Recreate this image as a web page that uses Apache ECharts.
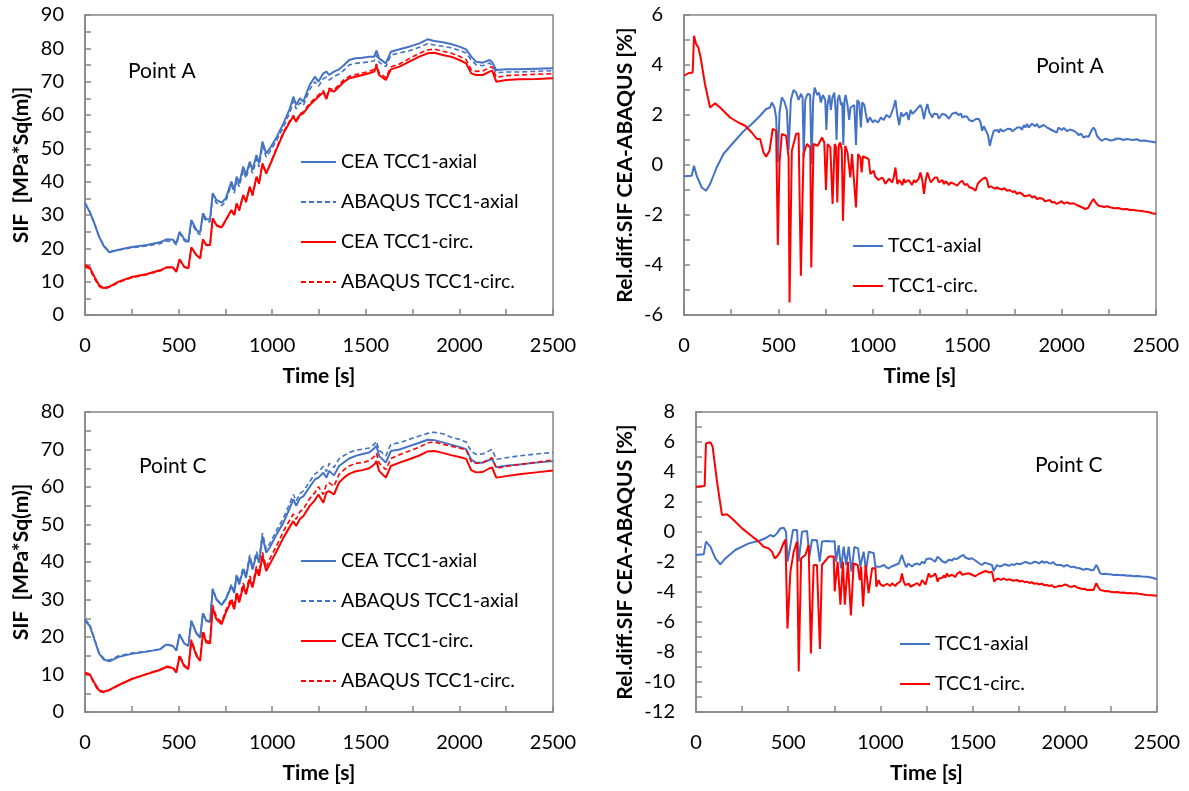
<!DOCTYPE html>
<html><head><meta charset="utf-8">
<script src="https://cdn.jsdelivr.net/npm/echarts@6/dist/echarts.min.js"></script>
<style>html,body{margin:0;padding:0;background:#fff}#c{width:1189px;height:791px}</style>
</head><body><div id="c"></div>
<script>
// ---- shared time grid (s) for SIF panels ----
const tSIF = [0,25,50,75,100,130,180,250,330,400,
435,470,488,505,530,552,568,595,615,630,
648,668,682,702,730,752,782,797,810,824,
845,860,880,895,916,930,948,968,988,1025,
1060,1095,1113,1128,1148,1166,1200,1228,1247,1273,
1290,1304,1330,1357,1384,1411,1446,1482,1518,1545,
1557,1571,1607,1634,1680,1732,1786,1830,1866,1911,
1955,2000,2036,2063,2089,2125,2161,2175,2197,2250,
2320,2410,2500];

// ---- Point A, SIF [MPa*Sq(m)] ----
const A_CEA_axial = [33.5,31,27.5,23.5,20.7,18.8,19.6,20.4,21,21.8,
22.7,22.6,21.5,25,22.8,22,28.5,25.5,24.7,30.5,
28.7,28.7,36.5,34.5,33.7,35,40,37.5,41.5,39.5,
44.5,42,46,43.5,48,45.5,52,48.5,50,53.5,
57.5,62,65.5,63,65,64,69,71.5,70,72.5,
73,72,73,73.7,75,76.5,77,77.2,77.5,77.5,
79.3,77,75.5,79,79.7,80.5,81.5,82.7,82.2,81.8,
81.3,80.5,79.7,77.5,76,75.7,76.5,75.8,73.5,73.7,
73.7,73.9,74];
const A_ABAQUS_axial = [33.6,31,27.5,23.6,20.9,19,19.5,20.2,20.7,21.4,
22.2,22.1,21,24.6,22.3,21.5,27.8,24.9,24,29.8,
28,28,35.6,33.6,32.8,34.1,39,36.6,40.4,38.5,
43.4,41,44.9,42.5,46.8,44.4,50.8,47.4,49,52.5,
56.4,60.8,64.2,61.8,63.7,62.8,67.6,70,68.6,70.9,
71.4,70.5,71.5,72.3,73.5,75,75.5,75.7,76,76.2,
78,75.8,74.5,78,78.6,79.3,80.3,81.4,81,80.6,
80.2,79.4,78.6,76.5,75.1,74.8,75.6,74.8,72.7,72.9,
72.9,73.1,73.3];
const A_CEA_circ = [15,14.3,11.5,9,8.1,8.5,10,11.4,12.3,13.4,
14.3,14.3,13,16.7,14.5,14,20.3,18,17,22.7,
21,21,29,27,26.3,28.5,31.5,30,33.5,31.5,
36,34,38.5,36,41.5,39.5,45.5,42.5,45,50,
54.5,58,59.5,58,60,60.5,63,64.5,65.5,66.8,
64.8,67.5,67,68.5,70,71,71.5,72,72.5,73,
74.7,72,70.5,73.7,74.5,76,77.5,78.5,78.7,78,
77.5,76.5,75.5,72.5,72,72,73,73.3,70,70.5,
70.7,70.8,71];
const A_ABAQUS_circ = [14.5,13.8,11,8.6,7.8,8.3,9.8,11.2,12.1,13.2,
14.2,14.2,12.9,16.5,14.4,13.9,20.1,17.9,16.9,22.5,
20.9,20.9,28.8,26.8,26.1,28.3,31.3,29.8,33.3,31.3,
35.8,33.8,38.3,35.8,41.3,39.3,45.3,42.4,45.2,50.3,
54.9,58.4,59.9,58.4,60.4,60.9,63.5,65,66,67.3,
65.4,68,67.5,69.1,70.6,71.6,72.1,72.6,73.1,73.7,
75.3,72.7,71.2,74.4,75.3,76.9,78.5,79.5,79.8,79.1,
78.6,77.6,76.6,73.6,73.1,73.2,74.2,74.5,71.3,71.8,
72,72.2,72.4];

// ---- Point C, SIF [MPa*Sq(m)] ----
const C_CEA_axial = [24.3,23,19.4,15.6,14,13.5,14.7,15.5,16.1,16.7,
18,17.6,16.4,20.7,18.3,17.6,24.3,21,19.8,26.3,
24.3,24,32.7,30,28.5,30,33.6,31.8,36.3,34,
38,35.8,41.2,38,42,39.8,46.8,42.5,44,47.5,
50.5,54.5,56.7,55,57,57.5,60,62,62.5,63.8,
62.5,64.3,63.1,65.6,66.6,67.6,68.3,68.8,69.2,70.3,
71,68.3,66.5,69.6,70,70.9,71.8,72.6,72.5,71.9,
71.3,70.7,70.1,67.3,66.5,66.5,67.2,67.4,65.3,65.7,
66,66.5,66.9];
const C_ABAQUS_axial = [24.7,23.4,19.6,15.8,14.3,13.8,15,15.7,16.2,16.8,
18.1,17.6,16.4,20.8,18.3,17.6,24.3,21.1,19.9,26.4,
24.5,24.2,32.9,30.2,28.7,30.3,34,32.2,36.8,34.5,
38.6,36.4,41.9,38.7,42.8,40.6,47.7,43.5,45,48.6,
51.7,55.8,58,56.3,58.3,58.9,61.4,63.5,64.1,65.5,
64.1,66.3,65.2,67.5,68.4,69.2,69.8,70.1,70.4,71.4,
72.2,69.8,68.3,71.4,71.8,72.7,73.6,74.3,74.6,74.2,
73.3,72.7,72,69.5,68.7,68.8,69.7,70,67.4,67.8,
68.3,68.8,69.2];
const C_CEA_circ = [10.5,10.1,7.8,5.8,5.4,5.9,7.2,8.8,10.1,11.2,
12,11.7,10.5,14.9,12.2,11.4,18.9,15,13.6,21.2,
18.5,18.3,27.8,24.7,23.4,26.5,29.6,27.4,31.4,29.2,
33.6,31.4,35.4,33.2,38,36.3,41.6,37.6,39.5,43,
46.5,49.5,50.9,49.6,51.5,52.2,54.9,56.5,58,55.8,
58.6,58.9,58,61.2,62.5,63.5,64.2,64.5,65,66,
66.9,64.3,62.5,65.6,66.5,67.4,68.4,69.5,69.6,69.1,
68.5,68,67.5,64.5,63.9,64,65,65.2,62.5,62.9,
63.4,63.9,64.4];
const C_ABAQUS_circ = [10.2,9.8,7.4,5.5,5.2,5.8,7.1,8.8,10.2,11.3,
12.2,11.9,10.7,15.2,12.5,11.6,19.3,15.4,14,21.7,
19,18.8,28.5,25.3,24,27.1,30.3,28.1,32.1,29.9,
34.4,32.2,36.3,34,38.9,37.2,42.6,38.6,40.9,44.5,
48.2,51.3,52.8,51.4,53.4,54.1,56.9,58.5,60.1,58,
60.8,61.1,60.2,63.4,64.6,65.6,66.3,66.5,67,68.1,
69,66.4,64.6,67.6,68.6,69.6,70.6,71.8,72,71.4,
70.9,70.4,69.9,66.8,66.3,66.5,67.5,67.8,65,65.5,
66,66.6,67.2];

// ---- Relative difference [%], [time, value] ----
const relA_axial = [[0,-0.45],[41,-0.43],[53,-0.03],[67,-0.43],[94,-0.9],[117,-1.03],[138,-0.76],[173,-0.1],[209,0.44],[262,0.9],[315,1.35],[359,1.64],[403,1.97],[435,2.24],[456,2.3],[465,2.5],[479,2.3],[488,1.9],[497,0.1],[506,2.1],[518,2.7],[531,2.55],[545,2.2],[554,0.6],[566,2.6],[580,3.0],[594,2.9],[607,2.6],[619,2.85],[628,2.7],[634,0.3],[642,2.6],[655,2.85],[668,2.8],[676,0.05],[684,2.6],[692,3.1],[705,2.8],[715,2.9],[725,2.5],[735,2.8],[748,2.6],[754,1.4],[760,2.4],[770,2.8],[778,2.2],[786,2.7],[796,2.9],[803,2.2],[808,1.0],[814,2.6],[822,2.8],[832,2.4],[838,2.5],[844,0.8],[850,2.6],[856,2.8],[866,2.4],[875,1.8],[882,2.3],[892,2.3],[902,2.4],[911,0.8],[918,2.6],[928,2.5],[937,1.5],[944,2.5],[955,2.4],[962,2.1],[972,1.7],[985,1.9],[1000,1.7],[1010,1.8],[1020,1.85],[1028,1.7],[1035,1.75],[1043,1.9],[1050,1.9],[1058,1.8],[1065,1.85],[1072,2.0],[1080,2.0],[1090,1.9],[1100,2.1],[1110,2.3],[1120,2.6],[1130,2.0],[1140,1.6],[1150,2.1],[1160,1.95],[1170,2.0],[1180,2.1],[1190,1.8],[1200,2.2],[1210,2.05],[1220,2.0],[1230,2.2],[1240,2.3],[1253,2.4],[1262,2.2],[1271,1.84],[1280,2.2],[1289,2.44],[1300,2.1],[1308,2.0],[1315,1.9],[1323,2.05],[1330,2.1],[1341,2.04],[1350,1.85],[1360,1.9],[1368,2.05],[1377,1.97],[1386,2.0],[1395,2.05],[1403,1.85],[1412,1.9],[1420,2.05],[1430,2.0],[1440,2.1],[1447,2.17],[1453,2.0],[1460,1.95],[1467,2.05],[1474,1.9],[1487,1.95],[1500,1.93],[1510,1.8],[1520,1.85],[1528,1.75],[1535,1.77],[1548,1.85],[1562,1.84],[1571,1.7],[1579,1.37],[1588,1.55],[1597,1.5],[1610,1.2],[1620,0.77],[1630,1.1],[1641,1.37],[1650,1.35],[1660,1.4],[1668,1.3],[1676,1.44],[1688,1.35],[1700,1.38],[1714,1.45],[1729,1.44],[1740,1.35],[1750,1.4],[1765,1.5],[1782,1.5],[1790,1.4],[1800,1.6],[1808,1.5],[1817,1.64],[1826,1.5],[1835,1.55],[1843,1.65],[1850,1.7],[1860,1.55],[1870,1.64],[1880,1.5],[1890,1.55],[1905,1.6],[1923,1.5],[1935,1.45],[1945,1.4],[1960,1.35],[1975,1.3],[1983,1.5],[1990,1.45],[2000,1.4],[2011,1.48],[2020,1.4],[2030,1.35],[2045,1.42],[2064,1.37],[2078,1.3],[2090,1.2],[2103,1.25],[2116,1.1],[2130,1.15],[2143,1.13],[2160,1.4],[2169,1.5],[2178,1.4],[2187,1.17],[2200,1.05],[2213,0.97],[2230,1.05],[2245,1.02],[2260,0.98],[2275,1.0],[2292,1.06],[2310,1.05],[2328,1.0],[2345,1.04],[2362,1.02],[2380,1.0],[2398,1.03],[2416,0.97],[2440,0.98],[2460,0.95],[2480,0.93],[2500,0.9]];
const relA_circ = [[0,3.57],[23,3.67],[46,3.7],[53,5.17],[64,4.84],[76,4.7],[88,4.3],[111,3.24],[138,2.3],[165,2.47],[191,2.3],[244,1.9],[288,1.7],[324,1.57],[359,1.3],[386,1.04],[403,1.04],[421,0.5],[435,0.33],[453,0.57],[470,1.45],[479,1.5],[488,1.37],[497,-3.2],[506,0.1],[518,1.24],[541,1.17],[554,0.3],[559,-5.5],[571,0.57],[594,1.24],[607,1.27],[619,-4.43],[633,0.44],[651,0.84],[669,0.7],[674,-4.1],[686,0.84],[708,0.77],[731,1.1],[743,0.9],[752,-1.0],[761,0.84],[775,0.7],[787,-1.56],[798,0.84],[806,0.7],[812,-1.5],[820,0.8],[828,0.9],[836,0.6],[842,-2.23],[854,0.77],[866,0.5],[872,0.44],[881,-0.5],[890,0.44],[900,0.4],[911,-1.7],[922,0.44],[934,0.3],[941,-0.3],[948,0.35],[961,0.3],[978,0.24],[987,-0.36],[1005,-0.23],[1012,-0.45],[1020,-0.5],[1030,-0.6],[1040,-0.63],[1050,-0.5],[1058,-0.6],[1067,-0.75],[1076,-0.7],[1085,-0.55],[1095,-0.6],[1103,-0.7],[1111,-0.5],[1120,-0.1],[1130,-0.76],[1140,-0.6],[1150,-0.65],[1157,-0.8],[1164,-0.56],[1172,-0.7],[1180,-0.75],[1190,-0.6],[1199,-0.7],[1208,-0.8],[1218,-0.6],[1226,-0.7],[1235,-0.76],[1243,-0.55],[1252,-0.3],[1262,-0.6],[1271,-1.16],[1280,-0.6],[1289,-0.3],[1300,-0.55],[1308,-0.7],[1315,-0.63],[1328,-0.5],[1341,-0.5],[1350,-0.7],[1360,-0.7],[1368,-0.6],[1377,-0.76],[1386,-0.65],[1395,-0.6],[1404,-0.8],[1412,-0.7],[1420,-0.78],[1430,-0.75],[1440,-0.7],[1447,-0.83],[1460,-0.7],[1474,-0.63],[1487,-0.8],[1500,-0.76],[1510,-0.88],[1520,-0.85],[1532,-0.95],[1544,-1.03],[1556,-0.75],[1570,-0.63],[1583,-0.55],[1597,-0.5],[1605,-0.6],[1614,-0.9],[1625,-0.85],[1635,-0.85],[1646,-0.95],[1658,-0.9],[1670,-0.95],[1685,-0.98],[1698,-0.93],[1711,-1.03],[1725,-1.0],[1740,-1.08],[1752,-1.05],[1764,-1.16],[1776,-1.1],[1790,-1.15],[1803,-1.25],[1817,-1.23],[1830,-1.2],[1845,-1.3],[1857,-1.25],[1870,-1.36],[1885,-1.32],[1900,-1.35],[1912,-1.45],[1923,-1.43],[1937,-1.4],[1950,-1.5],[1962,-1.48],[1975,-1.56],[1988,-1.5],[2000,-1.45],[2014,-1.55],[2028,-1.49],[2045,-1.55],[2064,-1.53],[2080,-1.6],[2095,-1.65],[2110,-1.7],[2125,-1.76],[2140,-1.72],[2150,-1.7],[2160,-1.45],[2169,-1.36],[2180,-1.5],[2196,-1.63],[2210,-1.65],[2225,-1.68],[2240,-1.65],[2257,-1.69],[2278,-1.73],[2300,-1.72],[2322,-1.77],[2345,-1.76],[2362,-1.8],[2380,-1.8],[2398,-1.82],[2416,-1.83],[2438,-1.86],[2460,-1.88],[2480,-1.93],[2500,-1.96]];

const relC_axial = [[0,-1.53],[42,-1.49],[54,-0.64],[78,-0.98],[105,-1.76],[132,-2.16],[159,-1.76],[213,-1.2],[286,-0.76],[340,-0.6],[376,-0.42],[403,-0.2],[421,-0.31],[439,-0.09],[457,0.24],[476,0.29],[488,0.02],[497,-1.98],[512,-0.87],[526,0.13],[548,0.13],[557,-1.98],[575,0.02],[602,0.07],[615,-1.64],[629,-0.53],[656,-0.55],[671,-1.98],[683,-0.64],[711,-0.6],[738,-0.64],[752,-0.6],[759,-1.98],[774,-0.87],[786,-2.42],[801,-0.98],[814,-2.2],[828,-0.98],[843,-2.64],[859,-1.0],[879,-1.09],[891,-2.3],[909,-1.31],[922,-2.53],[937,-1.31],[964,-1.42],[973,-2.31],[1000,-2.31],[1010,-2.4],[1020,-2.2],[1032,-2.35],[1045,-2.42],[1060,-2.3],[1070,-2.4],[1081,-2.2],[1090,-2.3],[1100,-2.1],[1108,-2.0],[1117,-1.53],[1126,-1.9],[1135,-2.2],[1142,-2.35],[1150,-2.1],[1160,-2.2],[1172,-2.3],[1185,-2.15],[1200,-2.1],[1213,-2.2],[1226,-1.98],[1238,-2.1],[1250,-1.8],[1260,-1.9],[1270,-1.76],[1283,-1.85],[1297,-1.98],[1310,-1.65],[1325,-1.8],[1335,-1.95],[1345,-1.9],[1353,-2.05],[1361,-1.98],[1370,-1.85],[1380,-1.85],[1390,-1.9],[1397,-1.76],[1406,-1.85],[1415,-1.8],[1425,-1.7],[1433,-1.64],[1443,-1.7],[1451,-1.53],[1460,-1.7],[1470,-1.75],[1480,-1.8],[1487,-1.87],[1496,-1.75],[1505,-1.8],[1515,-1.9],[1524,-1.98],[1537,-2.1],[1551,-2.2],[1565,-2.05],[1578,-2.09],[1592,-2.15],[1605,-2.2],[1614,-2.6],[1623,-2.4],[1632,-2.2],[1646,-2.3],[1660,-2.25],[1672,-2.15],[1686,-2.2],[1700,-2.25],[1712,-2.15],[1726,-2.2],[1740,-2.09],[1755,-2.15],[1768,-2.1],[1782,-2.0],[1795,-2.02],[1808,-2.1],[1822,-2.08],[1836,-1.98],[1849,-2.02],[1862,-2.1],[1875,-1.95],[1890,-2.05],[1903,-1.98],[1914,-2.08],[1925,-2.1],[1937,-2.0],[1948,-2.16],[1960,-2.2],[1970,-2.25],[1982,-2.2],[1994,-2.31],[2008,-2.2],[2020,-2.25],[2034,-2.35],[2048,-2.31],[2062,-2.38],[2075,-2.4],[2088,-2.45],[2102,-2.53],[2116,-2.45],[2130,-2.48],[2143,-2.55],[2156,-2.53],[2164,-2.35],[2171,-2.2],[2180,-2.4],[2192,-2.76],[2205,-2.8],[2220,-2.78],[2233,-2.82],[2247,-2.82],[2265,-2.86],[2285,-2.85],[2302,-2.89],[2319,-2.87],[2337,-2.92],[2355,-2.9],[2373,-2.95],[2391,-2.93],[2420,-2.97],[2446,-2.98],[2475,-3.05],[2500,-3.15]];
const relC_circ = [[0,3.02],[47,3.07],[54,5.91],[78,5.98],[90,5.69],[114,3.36],[141,1.13],[168,1.18],[204,0.8],[250,0.24],[295,-0.2],[340,-0.64],[367,-0.98],[394,-1.09],[412,-1.31],[427,-1.76],[439,-1.64],[457,-1.31],[470,-0.87],[485,-0.5],[496,-6.44],[512,-2.64],[530,-1.31],[548,-0.64],[557,-9.3],[570,-1.76],[593,-1.53],[611,-0.87],[623,-8.1],[638,-2.2],[656,-2.2],[672,-7.8],[683,-2.2],[720,-1.64],[747,-1.64],[752,-3.96],[768,-1.98],[783,-4.84],[797,-1.98],[807,-4.84],[824,-1.98],[840,-5.56],[855,-2.1],[877,-2.2],[888,-3.2],[895,-2.3],[906,-4.96],[920,-2.2],[936,-4.07],[955,-2.42],[973,-2.42],[978,-3.64],[991,-3.2],[1000,-3.5],[1010,-3.4],[1018,-3.6],[1027,-3.53],[1036,-3.45],[1045,-3.4],[1054,-3.6],[1063,-3.42],[1072,-3.5],[1080,-3.6],[1090,-3.45],[1099,-3.53],[1108,-3.3],[1117,-2.76],[1126,-3.3],[1135,-3.53],[1145,-3.4],[1155,-3.45],[1163,-3.65],[1172,-3.64],[1186,-3.5],[1200,-3.4],[1213,-3.6],[1226,-3.2],[1235,-3.35],[1245,-3.5],[1254,-3.1],[1262,-2.76],[1271,-3.0],[1280,-3.09],[1288,-2.9],[1297,-2.76],[1304,-3.0],[1310,-3.3],[1318,-3.1],[1325,-3.0],[1335,-3.05],[1345,-2.9],[1353,-3.05],[1361,-2.76],[1370,-2.95],[1380,-3.0],[1388,-2.85],[1397,-2.9],[1406,-3.0],[1415,-2.8],[1424,-2.9],[1433,-2.64],[1442,-2.85],[1450,-2.95],[1460,-2.8],[1469,-2.87],[1478,-2.75],[1487,-2.7],[1496,-2.85],[1505,-2.76],[1515,-2.95],[1525,-2.9],[1533,-2.8],[1542,-2.87],[1551,-2.7],[1560,-2.75],[1569,-2.6],[1578,-2.64],[1592,-2.7],[1605,-2.64],[1617,-3.31],[1628,-3.15],[1640,-3.1],[1654,-3.2],[1668,-3.09],[1684,-3.2],[1700,-3.15],[1720,-3.25],[1740,-3.2],[1755,-3.3],[1770,-3.25],[1782,-3.35],[1795,-3.31],[1808,-3.4],[1820,-3.35],[1835,-3.45],[1849,-3.42],[1862,-3.5],[1875,-3.45],[1890,-3.55],[1903,-3.53],[1917,-3.6],[1930,-3.55],[1943,-3.68],[1957,-3.64],[1970,-3.58],[1985,-3.6],[1998,-3.5],[2012,-3.53],[2026,-3.65],[2040,-3.65],[2053,-3.58],[2066,-3.7],[2080,-3.75],[2095,-3.8],[2108,-3.78],[2120,-3.87],[2138,-3.85],[2156,-3.87],[2164,-3.6],[2171,-3.42],[2180,-3.65],[2192,-3.87],[2205,-3.9],[2220,-3.95],[2233,-3.93],[2247,-3.98],[2265,-4.02],[2285,-4.0],[2302,-4.05],[2319,-4.03],[2337,-4.08],[2355,-4.06],[2373,-4.1],[2391,-4.09],[2408,-4.14],[2420,-4.15],[2433,-4.18],[2446,-4.2],[2470,-4.22],[2500,-4.25]];

const F = 'Lato, "Noto Sans", sans-serif';
const BLUE = '#4472C4', RED = '#FF0000', FRAME = '#868686';

const grids = [
  {left:85, top:15, width:468, height:300},
  {left:684, top:15, width:472, height:300},
  {left:85, top:412, width:468, height:300},
  {left:696, top:412, width:461, height:300}
].map(g => Object.assign({show:true, borderColor:FRAME, borderWidth:1.5, backgroundColor:'#fff'}, g));

function xAx(gi){
  return {type:'value', gridIndex:gi, min:0, max:2500, interval:250,
    name:'Time [s]', nameLocation:'middle', nameGap:51,
    nameTextStyle:{fontFamily:F, fontSize:21, fontWeight:'bold', color:'#000'},
    axisLine:{show:true, onZero:false, lineStyle:{color:FRAME, width:1.5}},
    axisTick:{show:true, inside:true, length:6, lineStyle:{color:FRAME, width:1.5}},
    axisLabel:{margin:21, fontFamily:F, fontSize:20, color:'#000',
      formatter:v => (v % 500 === 0 ? String(v) : '')},
    splitLine:{show:false}};
}
function yAx(gi, min, max, step, labelStep, name, gap){
  return {type:'value', gridIndex:gi, min:min, max:max, interval:step,
    name:name, nameLocation:'middle', nameGap:gap,
    nameTextStyle:{fontFamily:F, fontSize:21, fontWeight:'bold', color:'#000'},
    axisLine:{show:true, onZero:false, lineStyle:{color:FRAME, width:1.5}},
    axisTick:{show:true, inside:true, length:6, lineStyle:{color:FRAME, width:1.5}},
    axisLabel:{margin:21, fontFamily:F, fontSize:20, color:'#000',
      formatter:v => (Math.abs(v % labelStep) < 1e-9 ? String(v) : '')},
    splitLine:{show:false}};
}

function pairs(vals){ return tSIF.map((t,i)=>[t, vals[i]]); }
function line(name, gi, data, color, dashed){
  return {type:'line', name:name, xAxisIndex:gi, yAxisIndex:gi, data:data,
    symbol:'none', showSymbol:false, animation:false,
    lineStyle:{color:color, width:dashed?1.6:2, type:dashed?[5,3]:'solid'},
    itemStyle:{color:color}};
}

const legendBase = {orient:'vertical', padding:0, itemWidth:35, itemHeight:14, itemGap:20,
  itemStyle:{opacity:0},
  textStyle:{fontFamily:F, fontSize:19.5, color:'#000'}, selectedMode:false};

const option = {
  backgroundColor:'#fff',
  animation:false,
  grid:grids,
  xAxis:[xAx(0), xAx(1), xAx(2), xAx(3)],
  yAxis:[
    yAx(0, 0, 90, 5, 10, 'SIF  [MPa*Sq(m)]', 53),
    yAx(1, -6, 6, 1, 2, 'Rel.diff.SIF CEA-ABAQUS [%]', 48),
    yAx(2, 0, 80, 5, 10, 'SIF  [MPa*Sq(m)]', 53),
    yAx(3, -12, 8, 1, 2, 'Rel.diff.SIF CEA-ABAQUS [%]', 60)
  ],
  legend:[
    Object.assign({}, legendBase, {left:300, top:152, data:['CEA TCC1-axial','ABAQUS TCC1-axial','CEA TCC1-circ.','ABAQUS TCC1-circ.']}),
    Object.assign({}, legendBase, {left:852, top:236, itemWidth:30, data:['TCC1-axial','TCC1-circ.']}),
    Object.assign({}, legendBase, {left:300, top:551, data:['CEA TCC1-axial','ABAQUS TCC1-axial','CEA TCC1-circ.','ABAQUS TCC1-circ.']}),
    Object.assign({}, legendBase, {left:899, top:634, itemWidth:30, data:['TCC1-axial','TCC1-circ.']})
  ],
  graphic:[
    {type:'text', left:128, top:61, style:{text:'Point A', font:'21px '+F, fill:'#000'}},
    {type:'text', left:1036, top:56, style:{text:'Point A', font:'21px '+F, fill:'#000'}},
    {type:'text', left:139, top:456, style:{text:'Point C', font:'21px '+F, fill:'#000'}},
    {type:'text', left:1035, top:455, style:{text:'Point C', font:'21px '+F, fill:'#000'}}
  ],
  series:[
    line('CEA TCC1-axial', 0, pairs(A_CEA_axial), BLUE, false),
    line('ABAQUS TCC1-axial', 0, pairs(A_ABAQUS_axial), BLUE, true),
    line('CEA TCC1-circ.', 0, pairs(A_CEA_circ), RED, false),
    line('ABAQUS TCC1-circ.', 0, pairs(A_ABAQUS_circ), RED, true),
    line('TCC1-axial', 1, relA_axial, BLUE, false),
    line('TCC1-circ.', 1, relA_circ, RED, false),
    line('CEA TCC1-axial', 2, pairs(C_CEA_axial), BLUE, false),
    line('ABAQUS TCC1-axial', 2, pairs(C_ABAQUS_axial), BLUE, true),
    line('CEA TCC1-circ.', 2, pairs(C_CEA_circ), RED, false),
    line('ABAQUS TCC1-circ.', 2, pairs(C_ABAQUS_circ), RED, true),
    line('TCC1-axial', 3, relC_axial, BLUE, false),
    line('TCC1-circ.', 3, relC_circ, RED, false)
  ]
};
const chart = echarts.init(document.getElementById('c'), null, {renderer:'canvas'});
chart.setOption(option);
</script></body></html>
